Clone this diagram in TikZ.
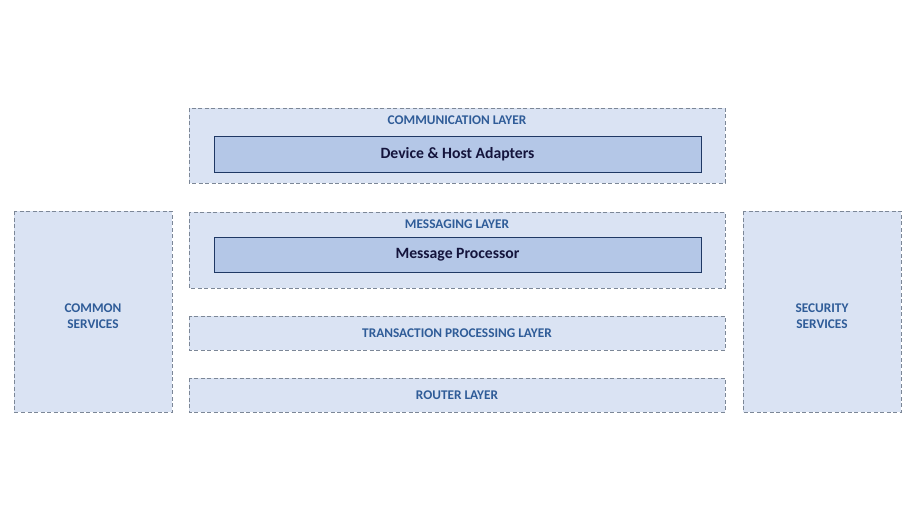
\documentclass[tikz,border=0pt]{standalone}
\usepackage{fontspec}
\setmainfont{Carlito}
\definecolor{outerfill}{HTML}{DAE3F3}
\definecolor{outerline}{HTML}{7C8797}
\definecolor{innerfill}{HTML}{B4C7E7}
\definecolor{innerline}{HTML}{1F3864}
\definecolor{labelblue}{HTML}{2F5C98}
\definecolor{innertext}{HTML}{14143C}
\begin{document}
\begin{tikzpicture}[x=1pt,y=-1pt,
  layerbox/.style={draw=outerline,fill=outerfill,line width=0.9pt,dash pattern=on 4pt off 2.5pt},
  innerbox/.style={draw=innerline,fill=innerfill,line width=0.9pt},
  laylabel/.style={text=labelblue,font=\bfseries\fontsize{13.3}{15.5}\selectfont,align=center},
  innerlabel/.style={text=innertext,font=\bfseries\fontsize{15.7}{18}\selectfont}]
\useasboundingbox (0,0) rectangle (918,517);
% outer boxes
\draw[layerbox] (189,108) rectangle (725,183);
\draw[layerbox] (189,212) rectangle (725,288);
\draw[layerbox] (189,316) rectangle (725,350);
\draw[layerbox] (189,378) rectangle (725,412);
\draw[layerbox] (14,211) rectangle (172,412);
\draw[layerbox] (743,211) rectangle (901,412);
% inner boxes
\draw[innerbox] (214,136) rectangle (701,172);
\draw[innerbox] (214,237) rectangle (701,272);
% labels
\node[laylabel] (comm) at (457,120) {COMMUNICATION LAYER};
\node[innerlabel] (dev) at (457.5,154.5) {Device \& Host Adapters};
\node[laylabel] (msg) at (457,224.5) {MESSAGING LAYER};
\node[innerlabel] (mp) at (457.5,255) {Message Processor};
\node[laylabel] (tp) at (457,333.5) {TRANSACTION PROCESSING LAYER};
\node[laylabel] (rt) at (457,395.5) {ROUTER LAYER};
\node[laylabel] (cs) at (93,316) {COMMON\\SERVICES};
\node[laylabel] (ss) at (822,316) {SECURITY\\SERVICES};
\end{tikzpicture}
\end{document}
